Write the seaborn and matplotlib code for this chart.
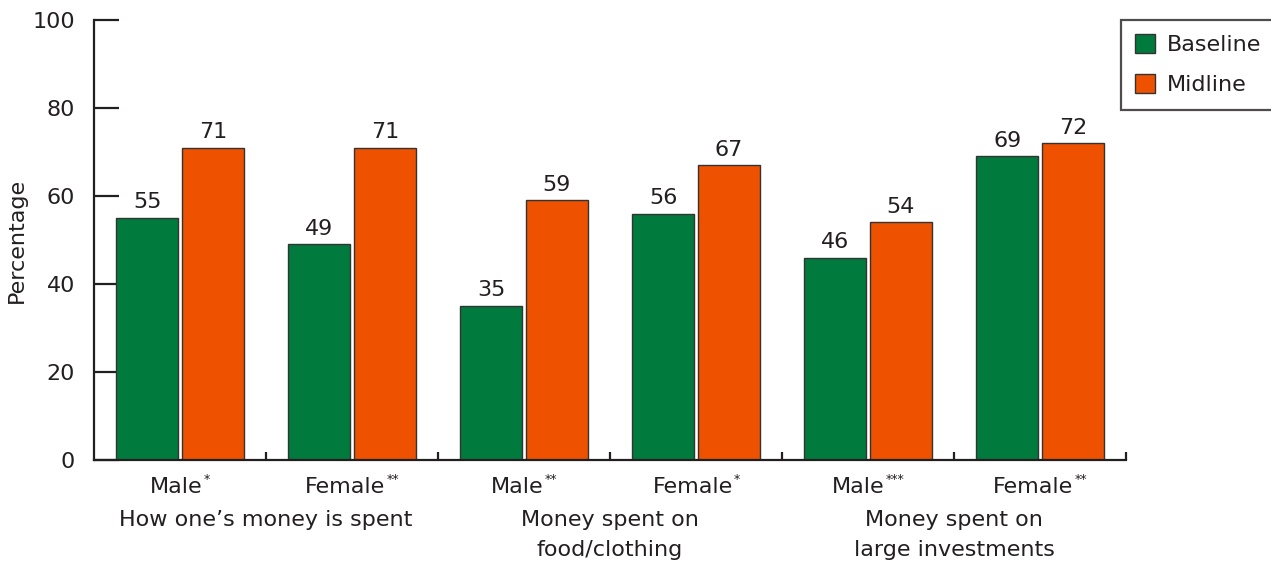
import matplotlib
matplotlib.use("Agg")
import matplotlib.pyplot as plt
from matplotlib.patches import Patch
from matplotlib.offsetbox import TextArea, HPacker, VPacker, DrawingArea, AnnotationBbox
import matplotlib.transforms as mtransforms
import seaborn as sns
import pandas as pd

# Data
categories = ["Male", "Female", "Male", "Female", "Male", "Female"]
significance = ["*", "**", "**", "*", "***", "**"]
baseline = [55, 49, 35, 56, 46, 69]
midline = [71, 71, 59, 67, 54, 72]
series = ["Baseline", "Midline"]
groups = [["How one\u2019s money is spent"],
          ["Money spent on", "food/clothing"],
          ["Money spent on", "large investments"]]
y_ticks = [0, 20, 40, 60, 80, 100]

GREEN = "#007A3D"
ORANGE = "#EE5200"
INK = "#231F20"

sns.set_theme(style="white")
plt.rcParams["font.family"] = ["DejaVu Sans"]

# each bar pair gets its own slot, since labels repeat across groups
slots = [f"{i}:{c}{s}" for i, (c, s) in enumerate(zip(categories, significance))]
df = pd.DataFrame({
    "slot": slots * 2,
    "series": [series[0]] * len(slots) + [series[1]] * len(slots),
    "value": baseline + midline,
})

W, H = 1271, 564
fig = plt.figure(figsize=(W / 100, H / 100), dpi=100)
ax = fig.add_axes([94 / W, 104 / H, (1126 - 94) / W, (460 - 20) / H])

sns.barplot(data=df, x="slot", y="value", hue="series",
            hue_order=series, order=slots,
            palette=[GREEN, ORANGE], width=0.762, gap=0.047,
            edgecolor="#333333", linewidth=1.0, saturation=1,
            errorbar=None, legend=False, ax=ax)

for cont in ax.containers:
    ax.bar_label(cont, fmt="%d", padding=4, fontsize=16, color=INK)

ax.set_xlim(-0.5, len(slots) - 0.5)
ax.set_ylim(0, 100)
ax.set_yticks(y_ticks)
ax.set_ylabel("Percentage", fontsize=16, color=INK, labelpad=4)
ax.set_xlabel("")

for side in ["top", "right"]:
    ax.spines[side].set_visible(False)
for side in ["left", "bottom"]:
    ax.spines[side].set_color(INK)
    ax.spines[side].set_linewidth(1.6)

ax.tick_params(axis="y", direction="in", length=18, width=1.6,
               color=INK, labelsize=16, labelcolor=INK, pad=13.5, left=True)
ax.set_xticks(range(len(slots)))
ax.set_xticklabels([""] * len(slots))
ax.tick_params(axis="x", which="major", length=0)
ax.set_xticks([i + 0.5 for i in range(len(slots))], minor=True)
ax.tick_params(axis="x", which="minor", direction="in", length=6,
               width=1.6, color=INK, bottom=True)

trans = mtransforms.blended_transform_factory(ax.transData, fig.transFigure)

# Category names with raised significance stars
for i, (name, stars) in enumerate(zip(categories, significance)):
    main = TextArea(name, textprops=dict(fontsize=16, color=INK))
    sup_text = TextArea(stars, textprops=dict(fontsize=9, color=INK))
    lift = DrawingArea(1, 7.5)
    sup = VPacker(children=[sup_text, lift], align="left", pad=0, sep=0)
    box = HPacker(children=[main, sup], align="bottom", pad=0, sep=0.5)
    ab = AnnotationBbox(box, (i, 1 - 485 / H), xycoords=trans,
                        box_alignment=(0.5, 0.5), frameon=False,
                        pad=0, annotation_clip=False)
    ax.add_artist(ab)

# Group captions under each pair of categories
for g, lines in enumerate(groups):
    xc = 2 * g + 0.5
    for k, line in enumerate(lines):
        ypix = 520 + 30 * k
        ax.text(xc, 1 - ypix / H, line, transform=trans, ha="center",
                va="center", fontsize=16, color=INK, clip_on=False)

handles = [Patch(facecolor=GREEN, edgecolor="#333333", linewidth=1.0),
           Patch(facecolor=ORANGE, edgecolor="#333333", linewidth=1.0)]
leg = fig.legend(handles, series, loc="upper left",
                 bbox_to_anchor=(1121 / W, 1 - 20 / H),
                 fontsize=16, frameon=True, fancybox=False,
                 handlelength=0.9, handleheight=0.9, handletextpad=0.5,
                 labelspacing=0.85, borderpad=0.65, borderaxespad=0)
leg.get_frame().set_edgecolor(INK)
leg.get_frame().set_linewidth(1.6)
for t in leg.get_texts():
    t.set_color(INK)

fig.savefig("out.png", dpi=100)
